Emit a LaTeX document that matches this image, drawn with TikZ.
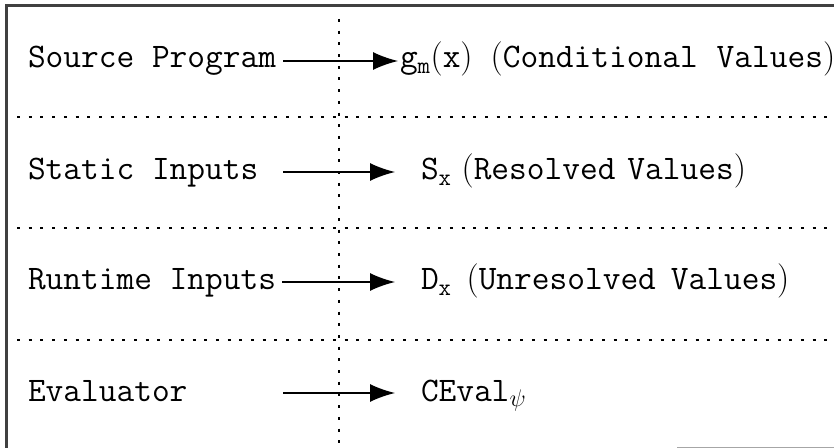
\RequirePackage{fix-cm}
\documentclass[tikz,border=0pt]{standalone}
\usetikzlibrary{arrows.meta}

\tikzset{
  lbl/.style={anchor=base west, inner sep=0pt, outer sep=0pt,
              font=\fontsize{34.4bp}{40bp}\selectfont\ttfamily},
  sep/.style={line width=1.4bp, dash pattern=on 3bp off 8.7bp},
  flow/.style={line width=1.5bp, -{Latex[length=25bp,width=18bp]}},
  frame/.style={line width=2.6bp, draw=black!75},
}
\newcommand{\rp}[1]{{\rmfamily#1}}

\begin{document}
\begin{tikzpicture}[x=1bp, y=-1bp]
  \useasboundingbox (0,0) rectangle (834,448);

  % outer frame (left and top edges)
  \draw[frame] (6.5,448) -- (6.5,5.5) -- (834,5.5);
  \draw[line width=1.2bp, draw=black!35] (677,447.5) -- (834,447.5);

  % column and row separators
  \draw[sep] (339,19) -- (339,448);
  \draw[sep] (17,117) -- (834,117);
  \draw[sep] (17,228) -- (834,228);
  \draw[sep] (17,340) -- (834,340);

  % left column
  \node[lbl] (src) at (28,68)  {Source Program};
  \node[lbl] (sta) at (28,180) {Static Inputs};
  \node[lbl] (run) at (28,290) {Runtime Inputs};
  \node[lbl] (ev)  at (28,401) {Evaluator};

  % right column
  \node[lbl] (gm) at (400,68)  {$\mathtt{g_m}(\mathtt{x})$\hspace{18bp}\rp{(}Conditional\hspace{19bp}Values\rp{)}};
  \node[lbl] (sx) at (421,180) {$\mathtt{S_x}$\hspace{10bp}\rp{(}Resolved\hspace{12bp}Values\rp{)}};
  \node[lbl] (dx) at (421,290) {$\mathtt{D_x}$\hspace{15bp}\rp{(}Unresolved\hspace{15bp}Values\rp{)}};
  \node[lbl] (ce) at (421,401) {$\mathtt{CEval}_{\psi}$};

  % arrow end points
  \coordinate (a1) at (283,61);   \coordinate (b1) at (398,61);
  \coordinate (a2) at (283,172);  \coordinate (b2) at (395,172);
  \coordinate (a3) at (282,282);  \coordinate (b3) at (395,282);
  \coordinate (a4) at (283,393);  \coordinate (b4) at (395,393);

  \draw[flow] (a1) -- (b1);
  \draw[flow] (a2) -- (b2);
  \draw[flow] (a3) -- (b3);
  \draw[flow] (a4) -- (b4);
\end{tikzpicture}
\end{document}
